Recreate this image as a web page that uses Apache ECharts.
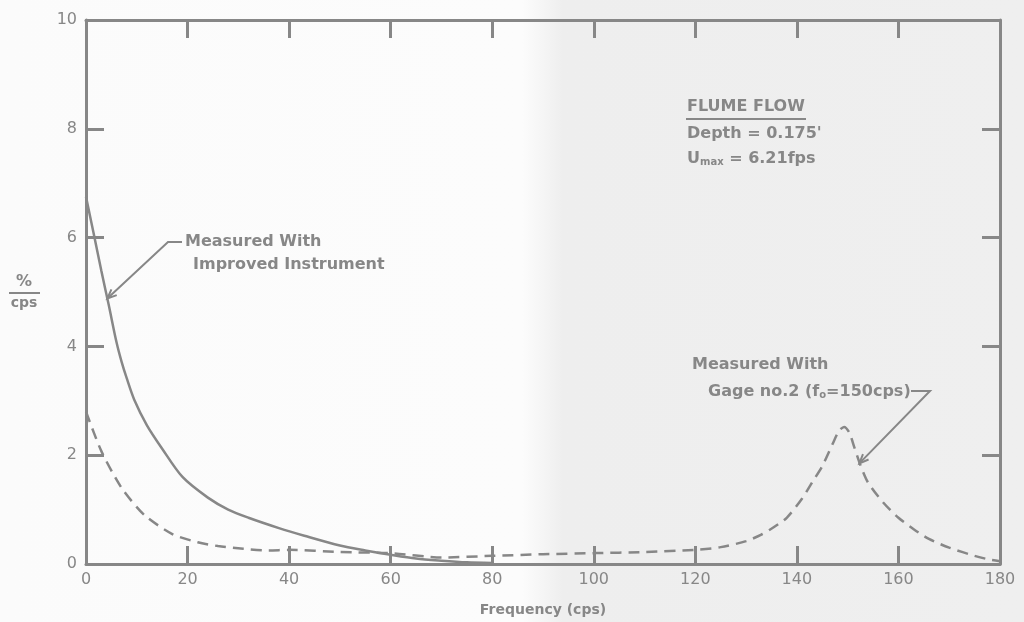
<!DOCTYPE html>
<html>
<head>
<meta charset="utf-8">
<script src="https://cdn.jsdelivr.net/npm/echarts@6/dist/echarts.min.js"></script>
<style>
html, body { margin: 0; padding: 0; background: #fff; }
#chart { width: 1024px; height: 622px; }
</style>
</head>
<body>
<div id="chart"></div>
<script>
// values
var freqTicks = [0, 20, 40, 60, 80, 100, 120, 140, 160, 180]
var levelTicks = [0, 2, 4, 6, 8, 10]

// measured with improved instrument (solid)
var improvedFreq = [0, 1.5, 3, 4.5, 6, 7, 8, 9.5, 12, 15, 19, 24, 28, 32, 38, 43, 50, 55, 60, 65, 70, 75, 80]
var improvedVal = [6.75, 6.08, 5.4, 4.75, 4.08, 3.72, 3.42, 3.02, 2.55, 2.12, 1.6, 1.22, 1.0, 0.85, 0.66, 0.52, 0.34, 0.25, 0.17, 0.1, 0.06, 0.03, 0.02]

// measured with gage no.2 (dashed)
var gageFreq = [0, 3, 7, 11.5, 17, 22, 26, 31, 36, 40, 50, 60, 70, 80, 90, 100, 110, 120, 125, 130, 133, 135.5, 138, 141, 143, 145, 147, 148.3, 149.3, 150.3, 151.3, 152.5, 154, 157, 160, 163, 166, 170, 175, 178, 180]
var gageVal = [2.8, 2.08, 1.4, 0.9, 0.55, 0.4, 0.33, 0.28, 0.25, 0.26, 0.22, 0.2, 0.12, 0.15, 0.18, 0.2, 0.22, 0.26, 0.31, 0.42, 0.54, 0.68, 0.85, 1.2, 1.5, 1.8, 2.2, 2.45, 2.52, 2.42, 2.15, 1.82, 1.5, 1.13, 0.85, 0.64, 0.46, 0.3, 0.15, 0.08, 0.05]

var ink = '#878787'
var font = 'DejaVu Sans'

var pairs = function (xs, ys) {
    return xs.map(function (x, i) { return [x, ys[i]] })
}

var chart = echarts.init(document.getElementById('chart'))

var axisCommon = function (extra) {
    var a = {
        type: 'value',
        axisLine: { show: true, onZero: false, lineStyle: { color: ink, width: 3 } },
        axisTick: { show: true, inside: true, length: 18, lineStyle: { color: ink, width: 3 } },
        splitLine: { show: false }
    }
    for (var k in extra) a[k] = extra[k]
    return a
}

var option = {
    backgroundColor: {
        type: 'linear', x: 0, y: 0, x2: 1, y2: 0,
        colorStops: [
            { offset: 0, color: '#fbfbfb' },
            { offset: 0.51, color: '#fcfcfc' },
            { offset: 0.55, color: '#eeeeee' },
            { offset: 1, color: '#efefef' }
        ]
    },
    animation: false,
    grid: { left: 86, right: 24, top: 20, bottom: 56 },
    xAxis: [
        axisCommon({
            min: freqTicks[0], max: freqTicks[freqTicks.length - 1], interval: 20,
            position: 'bottom',
            axisLabel: { margin: 8, fontSize: 16, color: ink, fontFamily: font },
            name: 'Frequency (cps)', nameLocation: 'middle', nameGap: 39,
            nameTextStyle: { fontSize: 14, fontWeight: 'bold', color: ink, fontFamily: font }
        }),
        axisCommon({
            min: freqTicks[0], max: freqTicks[freqTicks.length - 1], interval: 20,
            position: 'top', axisLabel: { show: false }
        })
    ],
    yAxis: [
        axisCommon({
            min: levelTicks[0], max: levelTicks[levelTicks.length - 1], interval: 2,
            position: 'left',
            axisLabel: { margin: 9, fontSize: 16, color: ink, fontFamily: font }
        }),
        axisCommon({
            min: levelTicks[0], max: levelTicks[levelTicks.length - 1], interval: 2,
            position: 'right', axisLabel: { show: false }
        })
    ],
    series: [
        {
            name: 'Measured With Improved Instrument',
            type: 'line',
            data: pairs(improvedFreq, improvedVal),
            showSymbol: false,
            smooth: 0.3,
            lineStyle: { color: ink, width: 2.5 }
        },
        {
            name: 'Measured With Gage no.2',
            type: 'line',
            data: pairs(gageFreq, gageVal),
            showSymbol: false,
            smooth: 0.25,
            lineStyle: { color: ink, width: 2.5, type: [11, 7] }
        }
    ]
}

chart.setOption(option)

// leader lines end on the curves, located through the axes
var arrow = function (pts) {
    var tip = pts[pts.length - 1], prev = pts[pts.length - 2]
    var ang = Math.atan2(prev[1] - tip[1], prev[0] - tip[0])
    var b1 = [tip[0] + 10 * Math.cos(ang + 0.4), tip[1] + 10 * Math.sin(ang + 0.4)]
    var b2 = [tip[0] + 10 * Math.cos(ang - 0.4), tip[1] + 10 * Math.sin(ang - 0.4)]
    return [
        { type: 'polyline', shape: { points: pts }, style: { stroke: ink, lineWidth: 2, fill: null } },
        { type: 'polyline', shape: { points: [b1, tip, b2] }, style: { stroke: ink, lineWidth: 2, fill: null } }
    ]
}

var tip1 = chart.convertToPixel({ xAxisIndex: 0, yAxisIndex: 0 }, [4.2, 4.88])
var tip2 = chart.convertToPixel({ xAxisIndex: 0, yAxisIndex: 0 }, [152.3, 1.85])

var textStyle = function (txt, x, y, extra) {
    var s = { text: txt, x: x, y: y, fill: ink, font: 'bold 16px "' + font + '"', textVerticalAlign: 'middle' }
    for (var k in extra) s[k] = extra[k]
    return s
}

var sub = { fontSize: 10, fontWeight: 'bold', fontFamily: font, color: ink, verticalAlign: 'bottom', padding: [7, 0, 0, 0] }

var graphics = []
graphics = graphics.concat(arrow([[182, 242], [168, 242], tip1]))
graphics = graphics.concat(arrow([[911, 391], [930, 391], tip2]))
graphics.push(
    { type: 'text', style: textStyle('Measured With', 185, 242) },
    { type: 'text', style: textStyle('Improved Instrument', 193, 265) },
    { type: 'text', style: textStyle('Measured With', 692, 365) },
    { type: 'text', style: textStyle('Gage no.2 (f{s|o}=150cps)', 708, 392, { rich: { s: sub } }) },
    { type: 'text', style: textStyle('FLUME FLOW', 687, 107) },
    { type: 'line', shape: { x1: 686, y1: 119, x2: 806, y2: 119 }, style: { stroke: ink, lineWidth: 2 } },
    { type: 'text', style: textStyle("Depth = 0.175'", 687, 134) },
    { type: 'text', style: textStyle('U{s|max} = 6.21fps', 687, 159, { rich: { s: sub } }) },
    { type: 'text', style: textStyle('%', 24, 282, { textAlign: 'center' }) },
    { type: 'line', shape: { x1: 9, y1: 293, x2: 40, y2: 293 }, style: { stroke: ink, lineWidth: 2 } },
    { type: 'text', style: textStyle('cps', 24, 303, { textAlign: 'center', font: 'bold 14px "' + font + '"' }) }
)

chart.setOption({ graphic: graphics })
</script>
</body>
</html>
